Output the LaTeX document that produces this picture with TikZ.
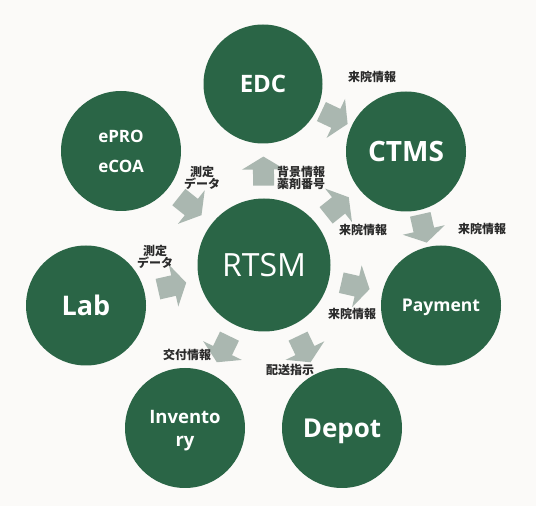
\documentclass[tikz,border=0pt]{standalone}
\usepackage{fontspec}
\setmainfont{Open Sans}
\newfontfamily\jp{Noto Sans CJK JP}
\usetikzlibrary{calc}
\definecolor{bgc}{HTML}{FBFAF8}
\definecolor{grn}{HTML}{2A6546}
\definecolor{arr}{HTML}{AAB7B0}
\definecolor{lbl}{HTML}{2B2B2B}
\tikzset{
  sys/.style={circle, fill=grn, inner sep=0pt, minimum size=120pt, text=white,
    align=center, text depth=0pt},
  flowlabel/.style={font=\jp\bfseries\fontsize{12}{12.5}\selectfont, text=lbl,
    align=center, inner sep=0pt},
  blockarrow/.pic={\fill[arr] (-14.5,-10.5) -- (1.5,-10.5) -- (1.5,-21.5) -- (14.5,0)
    -- (1.5,21.5) -- (1.5,10.5) -- (-14.5,10.5) -- cycle;}
}
\newcommand\flowarrow[3]{%
  \path let \p1=($(#2.center)-(#1.center)$), \n1={atan2(\y1,\x1)} in
    ($(#1.center)!#3!(#2.center)$) pic[rotate=\n1] {blockarrow};}
\begin{document}
\begin{tikzpicture}[x=1pt,y=1pt]
\fill[bgc] (0,0) rectangle (536,506);
\useasboundingbox (0,0) rectangle (536,506);
% systems
\node[sys, minimum size=119pt, font=\bfseries\fontsize{24}{24}\selectfont] (edc) at (263,422) {EDC};
\node[sys, font=\bfseries\fontsize{28}{28}\selectfont] (ctms) at (406,354.5) {CTMS};
\node[sys, font=\bfseries\fontsize{17}{30}\selectfont] (epro) at (121,355) {ePRO\\eCOA};
\node[sys, minimum size=133pt, font=\fontsize{32}{32}\selectfont] (rtsm) at (264,241) {RTSM};
\node[sys, font=\bfseries\fontsize{27}{27}\selectfont] (lab) at (86,200.5) {Lab};
\node[sys, font=\bfseries\fontsize{17.5}{17.5}\selectfont] (pay) at (441,200.5) {Payment};
\node[sys, font=\bfseries\fontsize{18.5}{23}\selectfont] (inv) at (185,78) {Invento\\ry};
\node[sys, font=\bfseries\fontsize{26}{26}\selectfont] (depot) at (342,78) {Depot};
% flow arrows
\flowarrow{rtsm}{edc}{0.519}
\flowarrow{edc}{ctms}{0.5}
\flowarrow{rtsm}{ctms}{0.517}
\flowarrow{ctms}{pay}{0.5}
\flowarrow{rtsm}{pay}{0.5165}
\flowarrow{rtsm}{depot}{0.5166}
\flowarrow{rtsm}{inv}{0.5166}
\flowarrow{lab}{rtsm}{0.4836}
\flowarrow{epro}{rtsm}{0.4836}
% labels
\node[flowlabel] (l1) at (301,328) {背景情報\\薬剤番号};
\node[flowlabel] (l2) at (372,429) {来院情報};
\node[flowlabel] (l3) at (363,276) {来院情報};
\node[flowlabel] (l4) at (482,277) {来院情報};
\node[flowlabel] (l5) at (352,192) {来院情報};
\node[flowlabel] (l6) at (290,136) {配送指示};
\node[flowlabel] (l7) at (187,151) {交付情報};
\node[flowlabel] (l8) at (155,249) {測定\\データ};
\node[flowlabel] (l9) at (202,328) {測定\\データ};
\end{tikzpicture}
\end{document}
